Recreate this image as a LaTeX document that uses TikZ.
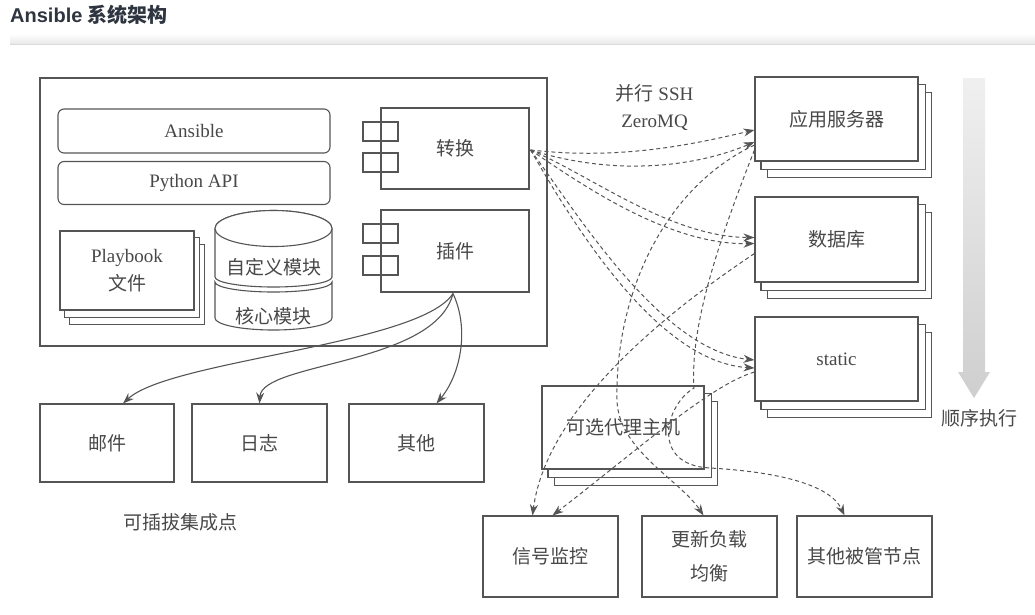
\documentclass[tikz,border=0pt]{standalone}
\usepackage{fontspec}
\setmainfont{Liberation Serif}
\setsansfont{Liberation Sans}
\newfontfamily\cjk{Noto Sans CJK SC}
\usetikzlibrary{arrows.meta,calc,backgrounds}
\definecolor{ln}{HTML}{555555}
\definecolor{tx}{HTML}{484848}
\definecolor{ttl}{HTML}{2F3540}
\tikzset{
  box/.style={draw=ln, line width=1.1pt, fill=white, rectangle, inner sep=0pt, text=tx,
    font=\fontsize{19}{28}\selectfont, align=center},
  rbox/.style={box, rounded corners=6pt},
  port/.style={draw=ln, line width=1.1pt, minimum width=35, minimum height=19, inner sep=0pt},
  lay/.style={draw=ln, line width=1.1pt, fill=white},
  lbl/.style={text=tx, inner sep=0pt, font=\fontsize{19}{24}\selectfont},
  dline/.style={draw=ln, line width=1pt, dash pattern=on 4pt off 3pt, -{Stealth[length=11pt,width=8pt]}},
  sline/.style={draw=ln, line width=1.1pt, -{Stealth[length=11pt,width=8pt]}},
  cyl/.style={draw=ln, line width=1.1pt, fill=white}
}
\newcommand\mystack[3]{%
  \begin{scope}[on background layer]
    \draw[lay] ($(#1.north west)+(2*#2,2*#3)$) rectangle ($(#1.south east)+(2*#2,2*#3)$);
    \draw[lay] ($(#1.north west)+(#2,#3)$) rectangle ($(#1.south east)+(#2,#3)$);
  \end{scope}}
\begin{document}
\begin{tikzpicture}[x=1pt,y=-1pt]
\useasboundingbox (0,0) rectangle (1035,614);
% title
\node[anchor=base west, inner sep=0pt, text=ttl, font=\fontsize{20}{24}\selectfont\sffamily\bfseries] (title) at (10,22) {Ansible {\cjk\bfseries 系统架构}};
\shade[top color=white, bottom color=gray!18] (10,34) rectangle (1035,44);
\draw[gray!28, line width=1pt] (10,44) -- (1035,44);

% outer frame
\node[box, fill=none, minimum width=507, minimum height=268] (frame) at (293.5,212) {};
\node[rbox, minimum width=272, minimum height=44] (ans) at (194,131) {Ansible};
\node[rbox, minimum width=272, minimum height=43] (api) at (194,183) {Python API};
\node[box, minimum width=134, minimum height=79] (pb) at (127,270.5) {Playbook\\{\cjk 文件}};
\mystack{pb}{5}{7}

% cylinders (lower: core modules, upper: custom modules)
\path[cyl] (215,282) -- (215,318) arc[start angle=180, end angle=0, x radius=58.5, y radius=12] -- (332,282) arc[start angle=0, end angle=180, x radius=58.5, y radius=10] -- cycle;
\path[cyl] (215,228.5) -- (215,277) arc[start angle=180, end angle=0, x radius=58.5, y radius=10] -- (332,228.5) arc[start angle=0, end angle=-180, x radius=58.5, y radius=18] -- cycle;
\draw[cyl] (273.5,228.5) ellipse[x radius=58.5, y radius=18];
\node[lbl] (cust) at (273.5,267) {\cjk 自定义模块};
\node[lbl] (core) at (273.5,316) {\cjk 核心模块};

% transform & plugin
\node[box, minimum width=148, minimum height=81] (zh) at (455,148.5) {\cjk 转换};
\node[port] (p1) at (380.5,131.5) {};
\node[port] (p2) at (380.5,162.5) {};
\node[box, minimum width=148, minimum height=82] (cj) at (455,251) {\cjk 插件};
\node[port] (p3) at (380.5,233.5) {};
\node[port] (p4) at (380.5,265.5) {};

% right hosts
\node[box, minimum width=163, minimum height=84] (app) at (836.5,119) {\cjk 应用服务器};
\mystack{app}{6.5}{8}
\node[box, minimum width=163, minimum height=85] (db) at (836.5,239.5) {\cjk 数据库};
\mystack{db}{6.5}{8}
\node[box, minimum width=163, minimum height=84] (st) at (836.5,359) {static};
\mystack{st}{6.5}{8}

% plugin targets
\node[box, minimum width=134, minimum height=78] (mail) at (107,443) {\cjk 邮件};
\node[box, minimum width=135, minimum height=78] (log) at (259.5,443) {\cjk 日志};
\node[box, minimum width=135, minimum height=78] (oth) at (416.5,443) {\cjk 其他};
\node[lbl] (plug) at (180,522) {\cjk 可插拔集成点};

% proxy & bottom nodes
\node[box, minimum width=162, minimum height=83] (proxy) at (623,427.5) {\cjk 可选代理主机};
\mystack{proxy}{6.5}{8}
\node[box, minimum width=135, minimum height=81] (sig) at (550.5,556.5) {\cjk 信号监控};
\node[box, minimum width=135, minimum height=81, font=\fontsize{19}{34}\selectfont] (upd) at (709.5,556.5) {\cjk 更新负载\\\cjk 均衡};
\node[box, minimum width=135, minimum height=81] (oth2) at (864.5,556.5) {\cjk 其他被管节点};

% labels
\node[lbl] (ssh) at (654.5,93) {{\cjk 并行} SSH};
\node[lbl] (zmq) at (654.5,123) {ZeroMQ};

% sequential arrow
\shade[top color=gray!12, bottom color=gray!38] (963,78) -- (985,78) -- (985,372) -- (990,372) -- (974,398) -- (958,372) -- (963,372) -- cycle;
\node[lbl] (seq) at (979,418) {\cjk 顺序执行};

% plugin arrows
\draw[sline] ($(cj.south)+(-2,1)$) .. controls (420,345) and (170,360) .. ($(mail.north)+(16,0)$);
\draw[sline] ($(cj.south)+(-2,1)$) .. controls (435,365) and (262,362) .. (log.north);
\draw[sline] ($(cj.south)+(-2,1)$) .. controls (470,330) and (460,375) .. ($(oth.north)+(20,0)$);

% transform to hosts
\coordinate (src) at ($(zh.east)+(1,1.5)$);
\draw[dline] (src) .. controls (620,160) and (690,145) .. ($(app.west)+(0,11)$);
\draw[dline] (src) .. controls (620,178) and (700,165) .. ($(app.west)+(0,23)$);
\draw[dline] (src) .. controls (590,175) and (670,237) .. ($(db.west)+(0,-2)$);
\draw[dline] (src) .. controls (585,187) and (670,245) .. ($(db.west)+(0,4)$);
\draw[dline] (src) .. controls (575,210) and (660,350) .. ($(st.west)+(0,1)$);
\draw[dline] (src) .. controls (570,218) and (655,362) .. ($(st.west)+(0,9)$);

% hosts to managed nodes
\draw[dline] ($(app.west)+(0,26)$) .. controls (660,190) and (615,300) .. (617,400) .. controls (618,450) and (680,480) .. ($(upd.north)+(-6,0)$);
\draw[dline] ($(app.west)+(0,31)$) .. controls (715,250) and (690,330) .. (694,388) .. controls (665,405) and (650,465) .. (710,468) .. controls (780,472) and (830,485) .. ($(oth2.north)+(-20,0)$);
\draw[dline] ($(db.west)+(0,14)$) .. controls (640,330) and (545,420) .. ($(sig.north)+(-18,0)$);
\draw[dline] ($(st.west)+(0,13)$) .. controls (710,385) and (635,452) .. ($(sig.north)+(2,0)$);
\end{tikzpicture}
\end{document}
